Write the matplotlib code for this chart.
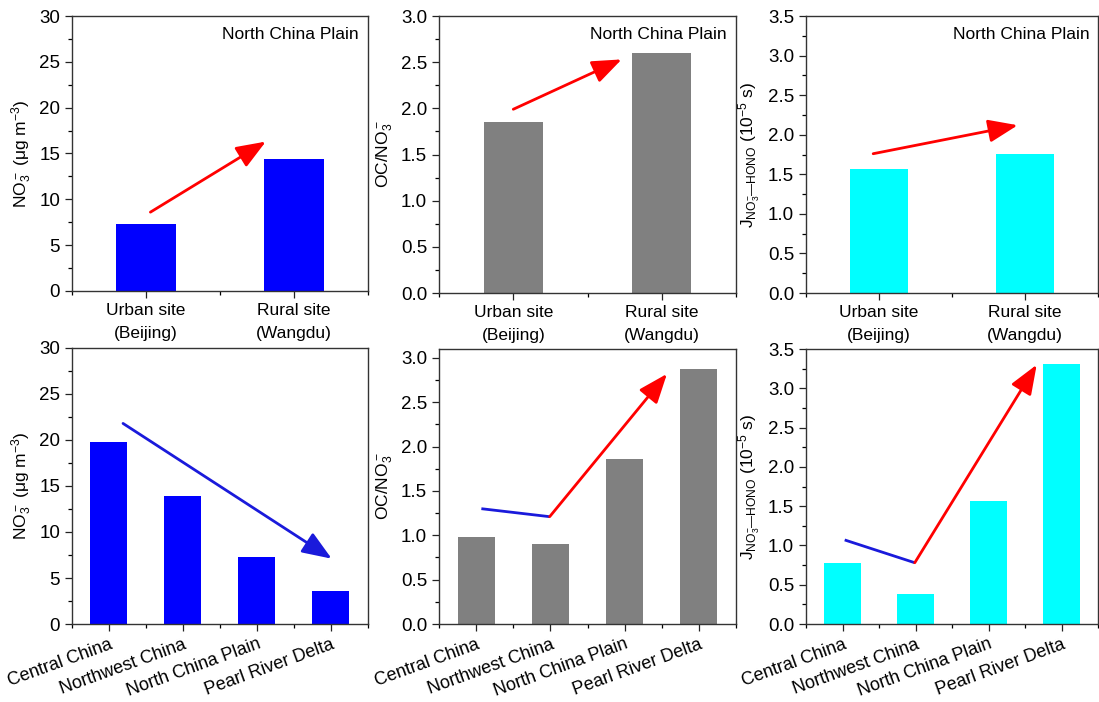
import matplotlib
matplotlib.use("Agg")
import matplotlib.pyplot as plt
from matplotlib.ticker import MultipleLocator

plt.rcParams['font.family'] = ['Liberation Sans', 'DejaVu Sans']
plt.rcParams['mathtext.fontset'] = 'custom'
plt.rcParams['mathtext.rm'] = 'Liberation Sans'
plt.rcParams['mathtext.it'] = 'Liberation Sans:italic'
plt.rcParams['mathtext.bf'] = 'Liberation Sans:bold'

# Categorie
sites = ['Urban site\n(Beijing)', 'Rural site\n(Wangdu)']
regions = ['Central China', 'Northwest China', 'North China Plain', 'Pearl River Delta']

# Valori per i due siti (North China Plain)
site_no3 = [7.3, 14.4]
site_oc_no3 = [1.85, 2.60]
site_j = [1.57, 1.76]

# Valori per le regioni
region_no3 = [19.8, 13.9, 7.3, 3.6]
region_oc_no3 = [0.98, 0.90, 1.86, 2.88]
region_j = [0.78, 0.38, 1.57, 3.31]

# Frecce di tendenza (x0, y0, x1, y1) in coordinate dati
site_arrows = [(1.03, 8.6, 1.81, 16.3), (1.0, 1.99, 1.73, 2.53), (0.96, 1.76, 1.95, 2.12)]
region_no3_arrow = (1.19, 21.8, 4.01, 7.1)
region_oc_trend = [(1.07, 1.30), (1.99, 1.21), (3.57, 2.82)]
region_j_trend = [(1.03, 1.07), (1.99, 0.78), (3.66, 3.30)]

label_no3 = 'NO$_3^-$ (μg m$^{-3}$)'
label_oc = 'OC/NO$_3^-$'
label_j = r'J$_{\mathregular{NO_3^{-}—HONO}}$ (10$^{-5}$ s)'

colors = ['#0000ff', '#808080', '#00ffff']

fig = plt.figure(figsize=(10.99, 7.02), dpi=100)

top_axes = [
    fig.add_axes([0.0655, 0.5855, 0.2693, 0.3917]),
    fig.add_axes([0.3995, 0.5826, 0.2702, 0.3946]),
    fig.add_axes([0.7334, 0.5826, 0.2657, 0.3946]),
]
bottom_axes = [
    fig.add_axes([0.0655, 0.1111, 0.2693, 0.3932]),
    fig.add_axes([0.3995, 0.1111, 0.2702, 0.3917]),
    fig.add_axes([0.7334, 0.1111, 0.2657, 0.3917]),
]


def style_axes(ax, ymax, ystep):
    ax.set_ylim(0, ymax)
    ax.yaxis.set_major_locator(MultipleLocator(ystep))
    ax.yaxis.set_minor_locator(MultipleLocator(ystep / 2))
    ax.xaxis.set_minor_locator(MultipleLocator(0.5))
    ax.tick_params(which='major', direction='out', length=5, width=0.9, labelsize=13.5, colors='#222222')
    ax.tick_params(which='minor', direction='out', length=3, width=0.9)
    ax.tick_params(labelcolor='black')
    for s in ax.spines.values():
        s.set_linewidth(1.0)
        s.set_color('#333333')


def arrow(ax, x0, y0, x1, y1, color):
    ax.annotate('', xy=(x1, y1), xytext=(x0, y0),
                arrowprops=dict(arrowstyle='-|>,head_length=0.9,head_width=0.35',
                                color=color, lw=2, mutation_scale=20,
                                shrinkA=0, shrinkB=0))


# Riga superiore: sito urbano vs rurale
top_values = [site_no3, site_oc_no3, site_j]
top_limits = [(30, 5), (3.0, 0.5), (3.5, 0.5)]
labels = [label_no3, label_oc, label_j]
xs = [1, 2]
for ax, vals, (ymax, step), col, lab, arr in zip(top_axes, top_values, top_limits, colors, labels, site_arrows):
    ax.bar(xs, vals, width=0.4, color=col)
    ax.set_xlim(0.5, 2.5)
    style_axes(ax, ymax, step)
    ax.set_xticks(xs)
    ax.set_xticklabels(sites, fontsize=12.5, linespacing=1.7)
    ax.set_ylabel(lab, fontsize=12.5)
    ax.text(0.97, 0.96, 'North China Plain', transform=ax.transAxes,
            ha='right', va='top', fontsize=12.5)
    arrow(ax, *arr, color='#ff0000')

# Riga inferiore: regioni
bottom_values = [region_no3, region_oc_no3, region_j]
bottom_limits = [(30, 5), (3.1, 0.5), (3.5, 0.5)]
xs = [1, 2, 3, 4]
for ax, vals, (ymax, step), col, lab in zip(bottom_axes, bottom_values, bottom_limits, colors, labels):
    ax.bar(xs, vals, width=0.5, color=col)
    ax.set_xlim(0.5, 4.5)
    style_axes(ax, ymax, step)
    ax.set_xticks(xs)
    ax.set_xticklabels(regions, fontsize=13, rotation=20, ha='right', rotation_mode='anchor')
    ax.set_ylabel(lab, fontsize=12.5)

arrow(bottom_axes[0], *region_no3_arrow, color='#1a1adb')

for ax, trend in [(bottom_axes[1], region_oc_trend), (bottom_axes[2], region_j_trend)]:
    (xa, ya), (xb, yb), (xc, yc) = trend
    ax.plot([xa, xb], [ya, yb], color='#1a1adb', lw=2, solid_capstyle='butt')
    arrow(ax, xb, yb, xc, yc, color='#ff0000')

fig.savefig('out.png', dpi=100)
